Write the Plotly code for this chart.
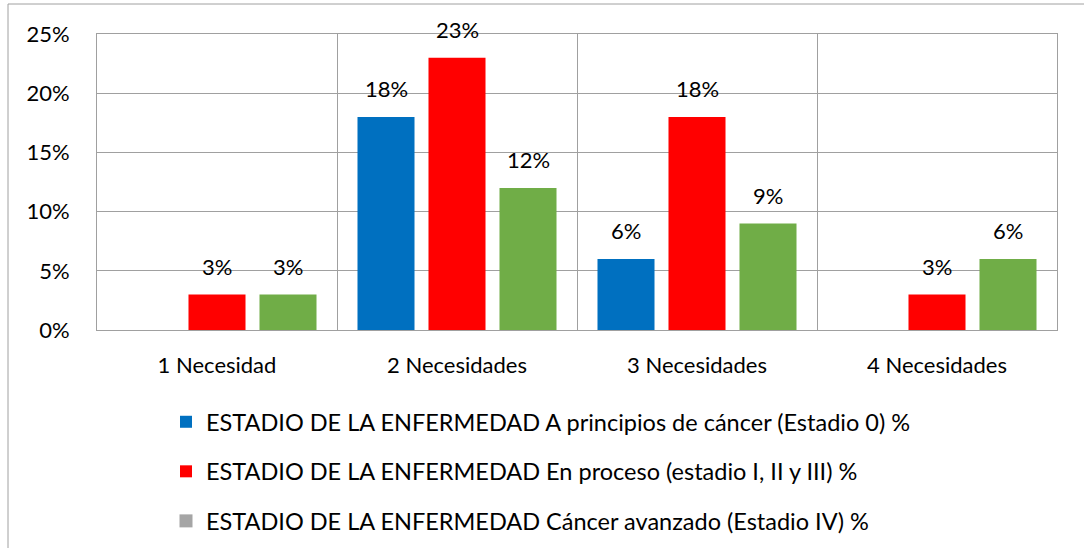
import plotly.graph_objects as go

categories = ["1 Necesidad", "2 Necesidades", "3 Necesidades", "4 Necesidades"]
estadio0 = [None, 18, 6, None]
estadio123 = [3, 23, 18, 3]
estadio4 = [3, 12, 9, 6]
legend_names = [
    "ESTADIO DE LA ENFERMEDAD A principios de cáncer (Estadio 0) %",
    "ESTADIO DE LA ENFERMEDAD En proceso (estadio I, II y III) %",
    "ESTADIO DE LA ENFERMEDAD Cáncer avanzado (Estadio IV) %",
]
y_ticks = [0, 5, 10, 15, 20, 25]
y_ticktext = [f"{v}%" for v in y_ticks]

FONT = "Lato"
FS = 22
colors = ["#0070C0", "#FF0000", "#70AD47"]
legend_colors = ["#0070C0", "#FF0000", "#A5A5A5"]

W, H = 1084, 548
pl, pt = 97, 34
pr = W - 1057
pb = H - 330
pw, ph = W - pl - pr, H - pt - pb

fig = go.Figure()
series = [estadio0, estadio123, estadio4]
for i, vals in enumerate(series):
    fig.add_trace(go.Bar(
        x=categories, y=vals, name=legend_names[i],
        marker=dict(color=colors[i], line=dict(width=0)),
        showlegend=(i < 2), legendgroup=f"g{i}",
    ))
fig.add_trace(go.Scatter(
    x=[None], y=[None], mode="markers", name=legend_names[2],
    marker=dict(symbol="square", color=legend_colors[2], size=13),
    legendgroup="g2", showlegend=True,
))

shifts = [-71, 0, 71]
for i, vals in enumerate(series):
    for c, v in zip(categories, vals):
        if v is None:
            continue
        fig.add_annotation(
            x=c, y=v, text=f"{v}%", showarrow=False,
            xshift=shifts[i], yshift=28, yanchor="middle",
            font=dict(family=FONT, size=FS, color="#000000"),
        )

# outer chart-area border
fig.add_shape(
    type="rect", xref="paper", yref="paper",
    x0=(8 - pl) / pw, x1=(W + 20 - pl) / pw,
    y0=-(H + 20 - pt - ph) / ph, y1=(pt + ph - 4) / ph,
    line=dict(color="#A0A0A0", width=1), fillcolor="rgba(0,0,0,0)", layer="below",
)

fig.update_layout(
    width=W, height=H,
    margin=dict(l=pl, r=pr, t=pt, b=pb, autoexpand=False),
    paper_bgcolor="white", plot_bgcolor="white",
    barmode="group", bargap=0.1125, bargroupgap=0.197,
    font=dict(family=FONT, size=FS, color="#000000"),
    legend=dict(
        x=(166 - pl) / pw, xanchor="left",
        y=(ph - (400 - pt)) / ph, yanchor="top",
        font=dict(family=FONT, size=23.5, color="#000000"),
        tracegroupgap=16, traceorder="grouped",
        bgcolor="rgba(0,0,0,0)",
    ),
    xaxis=dict(
        type="category", tickson="boundaries", showgrid=True,
        gridcolor="#A0A0A0", gridwidth=1,
        showline=True, linecolor="#A0A0A0", linewidth=1, mirror=True,
        ticks="", ticklabelstandoff=16,
        tickfont=dict(family=FONT, size=FS),
    ),
    yaxis=dict(
        range=[0, 25], tickvals=y_ticks, ticktext=y_ticktext,
        showgrid=True, gridcolor="#A0A0A0", gridwidth=1,
        showline=True, linecolor="#A0A0A0", linewidth=1, mirror=True,
        zeroline=False, ticks="", ticklabelstandoff=22,
        tickfont=dict(family=FONT, size=FS),
    ),
)

fig.write_html("out.html", config={"displayModeBar": False},
               post_script="document.body.style.margin='0';")
